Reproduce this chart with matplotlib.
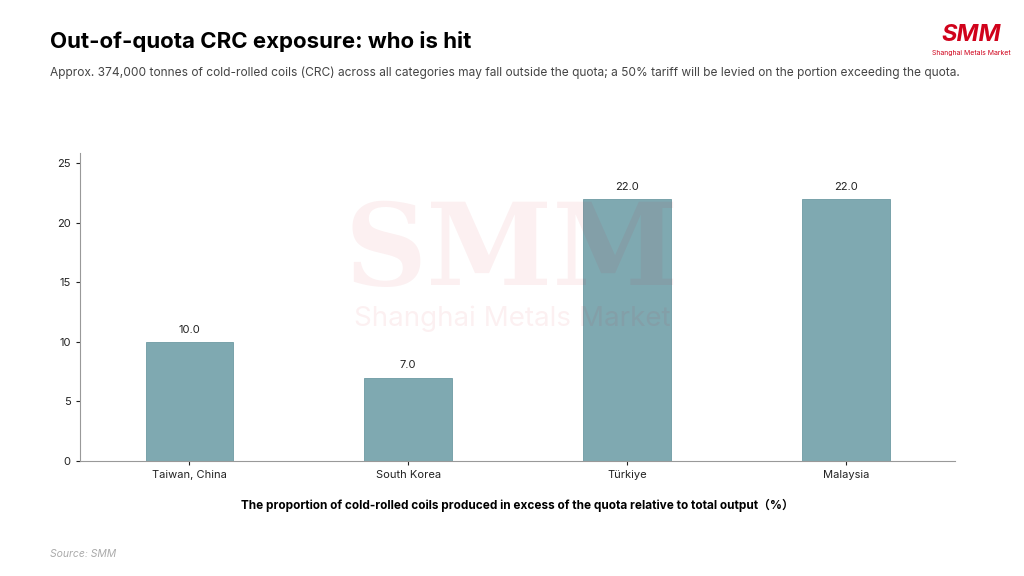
import matplotlib
matplotlib.use("Agg")
import matplotlib.pyplot as plt

categories = ["Taiwan, China", "South Korea", "Türkiye", "Malaysia"]
values = [10.0, 7.0, 22.0, 22.0]
yticks = [0, 5, 10, 15, 20, 25]

plt.rcParams['font.family'] = ['Inter', 'Noto Sans CJK SC', 'DejaVu Sans']
fig = plt.figure(figsize=(10.24, 5.76), dpi=100)
ax = fig.add_axes([0.078, 0.2, 0.855, 0.535])

# watermark
fig.text(0.5, 0.56, "SMM", ha="center", va="center", fontsize=82, fontweight="black",
         color="#d0021b", alpha=0.06, family="DejaVu Serif")
fig.text(0.5, 0.447, "Shanghai Metals Market", ha="center", va="center", fontsize=20,
         color="#d0021b", alpha=0.06)

ax.bar(range(len(categories)), values, width=0.4, color="#7fa9b1",
       edgecolor="#6d9aa3", linewidth=0.6, zorder=2)
for i, v in enumerate(values):
    ax.text(i, v + 0.6, f"{v:.1f}", ha="center", va="bottom", fontsize=8, color="#222")

ax.set_xlim(-0.5, 3.5)
ax.set_ylim(0, 25.9)
ax.set_yticks(yticks)
ax.set_xticks(range(len(categories)))
ax.set_xticklabels(categories)
ax.tick_params(labelsize=8, colors="#222", length=3)
for s in ["top", "right"]:
    ax.spines[s].set_visible(False)
for s in ["left", "bottom"]:
    ax.spines[s].set_color("#999")
ax.set_xlabel("The proportion of cold-rolled coils produced in excess of the quota relative to total output（%）",
              fontsize=8.5, fontweight="bold", labelpad=14)

fig.text(0.049, 0.928, "Out-of-quota CRC exposure: who is hit", fontsize=16, fontweight="bold", va="center")
fig.text(0.049, 0.873, "Approx. 374,000 tonnes of cold-rolled coils (CRC) across all categories may fall outside the quota; a 50% tariff will be levied on the portion exceeding the quota.",
         fontsize=8.6, color="#444", va="center")
fig.text(0.049, 0.038, "Source: SMM", fontsize=7.5, color="#aaa", fontstyle="italic", va="center")
fig.text(0.949, 0.94, "SMM", fontsize=17, fontweight="bold", color="#d0021b", ha="center", va="center", fontstyle="italic")
fig.text(0.949, 0.908, "Shanghai Metals Market", fontsize=5, color="#d0021b", ha="center", va="center")

fig.savefig("out.png", dpi=100)
